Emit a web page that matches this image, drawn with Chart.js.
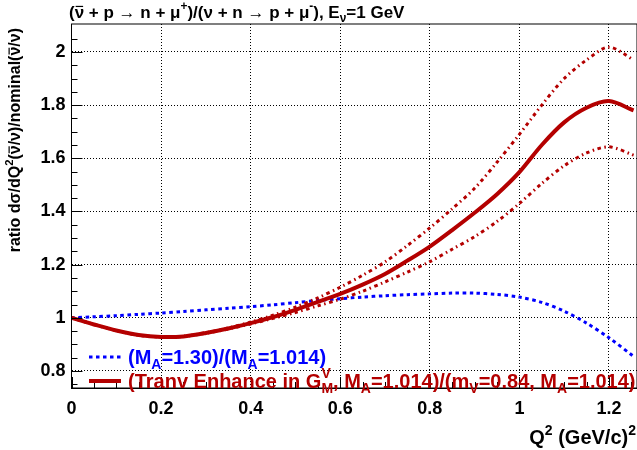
<!DOCTYPE html>
<html>
<head>
<meta charset="utf-8">
<script src="https://cdn.jsdelivr.net/npm/chart.js@4.4.1/dist/chart.umd.min.js"></script>
<style>
  html, body { margin: 0; padding: 0; background: #fff; }
</style>
</head>
<body>
<canvas id="chart" width="637" height="450"></canvas>
<script>
// Q^2 values (GeV/c)^2
const q2 = [0, 0.05, 0.1, 0.15, 0.2, 0.25, 0.3, 0.35, 0.4, 0.45, 0.5, 0.55, 0.6, 0.65,
            0.7, 0.75, 0.8, 0.85, 0.9, 0.95, 1.0, 1.05, 1.1, 1.15, 1.2, 1.255];

// (M_A=1.30)/(M_A=1.014)
const ratioMA130 = [1.0, 1.004, 1.008, 1.013, 1.018, 1.024, 1.03, 1.036, 1.042, 1.049, 1.057, 1.065, 1.072, 1.078,
                    1.083, 1.087, 1.09, 1.093, 1.093, 1.088, 1.078, 1.058, 1.025, 0.98, 0.925, 0.855];

// transverse enhancement, central and band
const ratioTE = [1.0, 0.975, 0.952, 0.935, 0.928, 0.93, 0.943, 0.96, 0.98, 1.003, 1.03, 1.06, 1.09, 1.125,
                 1.165, 1.215, 1.268, 1.33, 1.395, 1.465, 1.548, 1.65, 1.735, 1.79, 1.815, 1.78];
const ratioTEUp = [1.0, 0.975, 0.952, 0.935, 0.928, 0.93, 0.944, 0.962, 0.984, 1.01, 1.04, 1.075, 1.115, 1.16,
                   1.21, 1.272, 1.338, 1.41, 1.487, 1.585, 1.69, 1.8, 1.9, 1.97, 2.018, 1.97];
const ratioTELow = [1.0, 0.975, 0.952, 0.935, 0.928, 0.93, 0.942, 0.958, 0.977, 0.998, 1.02, 1.045, 1.07, 1.1,
                    1.135, 1.172, 1.211, 1.258, 1.305, 1.362, 1.43, 1.505, 1.572, 1.62, 1.643, 1.612];

const xTicks = [0, 0.2, 0.4, 0.6, 0.8, 1.0, 1.2];
const xTickLabels = ['0', '0.2', '0.4', '0.6', '0.8', '1', '1.2'];
const yTicks = [0.8, 1.0, 1.2, 1.4, 1.6, 1.8, 2.0];
const yTickLabels = ['0.8', '1', '1.2', '1.4', '1.6', '1.8', '2'];

const RED = '#b40000';
const BLUE = '#0000ff';
const FONT = '"Liberation Sans", Arial, Helvetica, sans-serif';

function pts(ys) {
    return q2.map((x, i) => ({ x: x, y: ys[i] }));
}

// draws text with sub/superscripts, returns width
function drawRich(ctx, parts, x, y, size, color, draw) {
    let cx = x;
    ctx.fillStyle = color;
    ctx.strokeStyle = color;
    ctx.textBaseline = 'alphabetic';
    ctx.textAlign = 'left';
    parts.forEach(p => {
        const small = size * 0.7;
        if (p.m === 'sup' || p.m === 'sub') {
            ctx.font = `bold ${small}px ${FONT}`;
            const dy = p.m === 'sup' ? -size * 0.45 : size * 0.25;
            if (draw) ctx.fillText(p.t, cx, y + dy);
            cx += ctx.measureText(p.t).width;
        } else if (p.m === 'subsup') {
            ctx.font = `bold ${small}px ${FONT}`;
            const w1 = ctx.measureText(p.t[0]).width;
            const w2 = ctx.measureText(p.t[1]).width;
            if (draw) {
                ctx.fillText(p.t[0], cx, y + size * 0.25);
                ctx.fillText(p.t[1], cx, y - size * 0.5);
            }
            cx += Math.max(w1, w2);
        } else {
            ctx.font = `bold ${size}px ${FONT}`;
            const w = ctx.measureText(p.t).width;
            if (draw) {
                ctx.fillText(p.t, cx, y);
                if (p.m === 'bar') {
                    ctx.lineWidth = 1.2;
                    ctx.beginPath();
                    ctx.moveTo(cx + 1, y - size * 0.68);
                    ctx.lineTo(cx + w - 1, y - size * 0.68);
                    ctx.stroke();
                }
            }
            cx += w;
        }
    });
    return cx - x;
}

const titleParts = [
    { t: '(' }, { t: 'ν', m: 'bar' }, { t: ' + p → n + μ' }, { t: '+', m: 'sup' },
    { t: ')/(ν + n → p + μ' }, { t: '-', m: 'sup' }, { t: '), E' }, { t: 'ν', m: 'sub' }, { t: '=1 GeV' }
];
const yTitleParts = [
    { t: 'ratio dσ/dQ' }, { t: '2', m: 'sup' }, { t: '(' }, { t: 'ν', m: 'bar' }, { t: '/ν)/nominal(' },
    { t: 'ν', m: 'bar' }, { t: '/ν)' }
];
const xTitleParts = [{ t: 'Q' }, { t: '2', m: 'sup' }, { t: ' (GeV/c)' }, { t: '2', m: 'sup' }];
const legend1Parts = [{ t: '(M' }, { t: 'A', m: 'sub' }, { t: '=1.30)/(M' }, { t: 'A', m: 'sub' }, { t: '=1.014)' }];
const legend2Parts = [
    { t: '(Tranv Enhance in G' }, { t: ['M', 'V'], m: 'subsup' }, { t: ', M' }, { t: 'A', m: 'sub' },
    { t: '=1.014)/(m' }, { t: 'V', m: 'sub' }, { t: '=0.84, M' }, { t: 'A', m: 'sub' }, { t: '=1.014)' }
];

const decorPlugin = {
    id: 'decor',
    afterDraw(chart) {
        const ctx = chart.ctx;
        const a = chart.chartArea;
        const xs = chart.scales.x, ys = chart.scales.y;
        ctx.save();

        // frame
        ctx.strokeStyle = '#000';
        ctx.lineWidth = 1;
        ctx.strokeRect(a.left, a.top, a.right - a.left, a.bottom - a.top);

        // inward ticks
        ctx.beginPath();
        for (let v = 0; v <= 1.26; v += 0.05) {
            const px = Math.round(xs.getPixelForValue(v)) + 0.5;
            const major = Math.abs(v / 0.2 - Math.round(v / 0.2)) < 1e-6;
            ctx.moveTo(px, a.bottom);
            ctx.lineTo(px, a.bottom - (major ? 11 : 6));
        }
        for (let v = 0.75; v <= 2.1; v += 0.05) {
            const py = Math.round(ys.getPixelForValue(v)) + 0.5;
            const major = Math.abs(v / 0.2 - Math.round(v / 0.2)) < 1e-6;
            ctx.moveTo(a.left, py);
            ctx.lineTo(a.left + (major ? 11 : 6), py);
        }
        ctx.stroke();

        // title
        drawRich(ctx, titleParts, 69, 18, 17, '#000', true);

        // x axis title, right aligned
        const xw = drawRich(ctx, xTitleParts, 0, 0, 20, '#000', false);
        drawRich(ctx, xTitleParts, 636 - xw, 444, 20, '#000', true);

        // y axis title, rotated, right aligned to top
        const yw = drawRich(ctx, yTitleParts, 0, 0, 16, '#000', false);
        ctx.save();
        ctx.translate(14, 28 + yw);
        ctx.rotate(-Math.PI / 2);
        drawRich(ctx, yTitleParts, 0, 6, 16, '#000', true);
        ctx.restore();

        // legend
        const ds = chart.data.datasets;
        const entries = [
            { d: ds[3], parts: legend1Parts, y: 357 },
            { d: ds[2], parts: legend2Parts, y: 381 }
        ];
        entries.forEach(e => {
            ctx.save();
            ctx.strokeStyle = e.d.borderColor;
            ctx.lineWidth = e.d.borderWidth;
            ctx.setLineDash(e.d.borderDash || []);
            ctx.beginPath();
            ctx.moveTo(89, e.y);
            ctx.lineTo(121, e.y);
            ctx.stroke();
            ctx.restore();
            drawRich(ctx, e.parts, 128, e.y + 7, 20, e.d.borderColor, true);
        });
        ctx.restore();
    }
};

new Chart(document.getElementById('chart'), {
    type: 'line',
    data: {
        datasets: [
            { label: 'upper', data: pts(ratioTEUp), borderColor: RED, borderWidth: 3, borderDash: [3.5, 3.5, 1.5, 3.5] },
            { label: 'lower', data: pts(ratioTELow), borderColor: RED, borderWidth: 3, borderDash: [3.5, 3.5, 1.5, 3.5] },
            { label: 'te', data: pts(ratioTE), borderColor: RED, borderWidth: 4 },
            { label: 'ma', data: pts(ratioMA130), borderColor: BLUE, borderWidth: 3, borderDash: [3.5, 3.5] }
        ]
    },
    options: {
        responsive: false,
        animation: false,
        devicePixelRatio: 1,
        layout: { padding: { top: 24, right: 0, left: 0, bottom: 0 } },
        elements: { point: { radius: 0 }, line: { tension: 0.3, fill: false } },
        plugins: { legend: { display: false }, tooltip: { enabled: false } },
        scales: {
            x: {
                type: 'linear',
                min: 0,
                max: 1.2626,
                afterFit: s => { s.height = 62; },
                afterBuildTicks: s => { s.ticks = xTicks.map(v => ({ value: v })); },
                ticks: {
                    callback: (v, i) => xTickLabels[i],
                    font: { family: FONT, size: 18, weight: 'bold' },
                    color: '#000',
                    padding: 10,
                    maxRotation: 0
                },
                grid: { color: '#000', lineWidth: 1, drawTicks: false },
                border: { display: true, color: '#000', dash: [1, 2] }
            },
            y: {
                type: 'linear',
                min: 0.736,
                max: 2.105,
                afterFit: s => { s.width = 71.5; },
                afterBuildTicks: s => { s.ticks = yTicks.map(v => ({ value: v })); },
                ticks: {
                    callback: (v, i) => yTickLabels[i],
                    font: { family: FONT, size: 18, weight: 'bold' },
                    color: '#000',
                    padding: 6
                },
                grid: { color: '#000', lineWidth: 1, drawTicks: false },
                border: { display: true, color: '#000', dash: [1, 2] }
            }
        }
    },
    plugins: [decorPlugin]
});
</script>
</body>
</html>
